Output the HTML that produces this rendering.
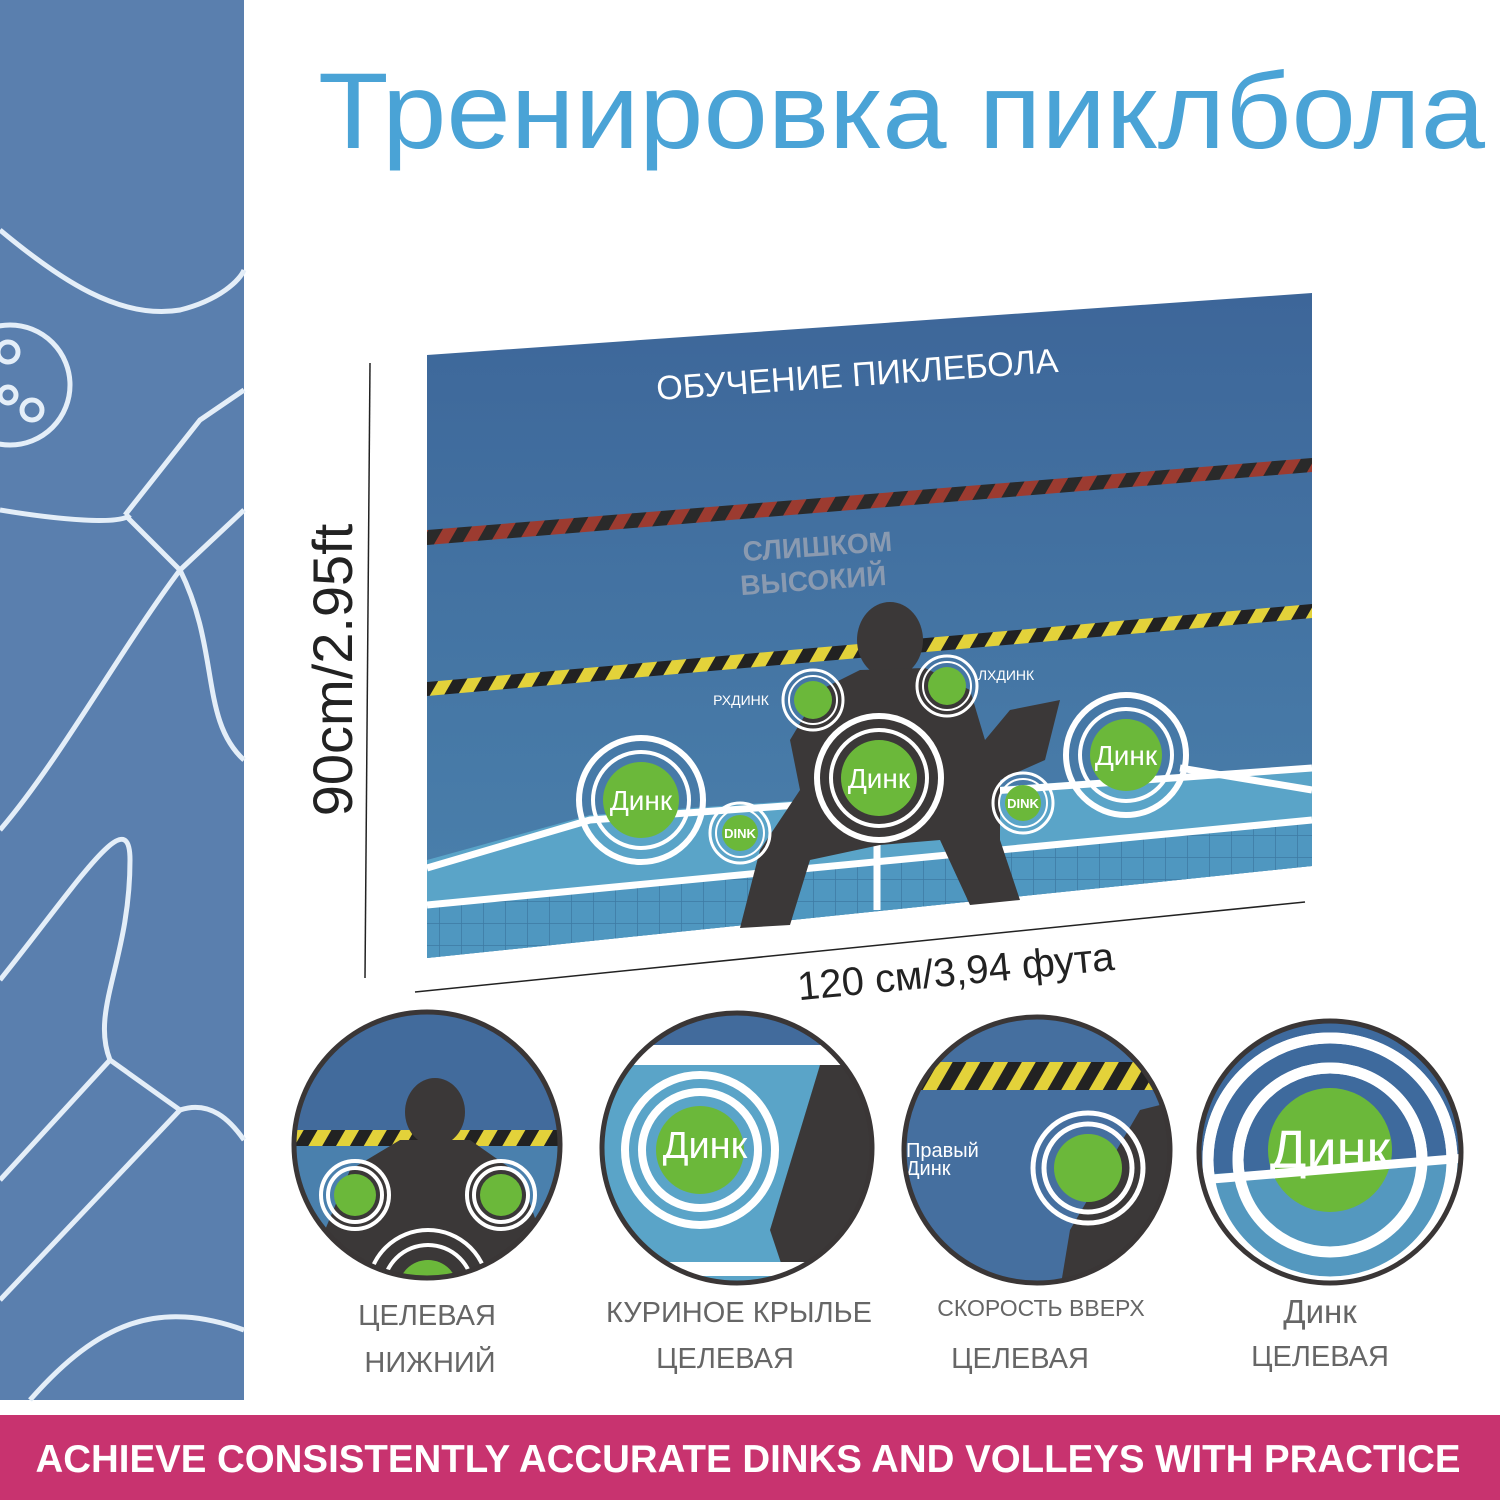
<!DOCTYPE html>
<html><head><meta charset="utf-8"><style>
html,body{margin:0;padding:0;background:#fff}
svg{display:block}
text{font-family:"Liberation Sans","DejaVu Sans",sans-serif}
</style></head><body>
<svg width="1500" height="1500" viewBox="0 0 1500 1500" xmlns="http://www.w3.org/2000/svg">
<defs>
<linearGradient id="mat" x1="0" y1="0" x2="0" y2="1">
<stop offset="0" stop-color="#3d6699"/><stop offset="1" stop-color="#4b82ad"/></linearGradient>
<pattern id="hz" width="24" height="14" patternUnits="userSpaceOnUse" patternTransform="rotate(30)">
<rect width="12" height="14" fill="#e3d23a"/><rect x="12" width="12" height="14" fill="#222"/></pattern>
<pattern id="rz" width="24" height="14" patternUnits="userSpaceOnUse" patternTransform="rotate(30)">
<rect width="12" height="14" fill="#9c3b30"/><rect x="12" width="12" height="14" fill="#2a2a2a"/></pattern>
<pattern id="grid" width="22" height="22" patternUnits="userSpaceOnUse">
<rect width="22" height="22" fill="#4f97c0"/><path d="M22 0V22M0 22H22" stroke="#3d7aa3" stroke-width="1.5"/></pattern>
<clipPath id="c1"><circle cx="427" cy="1145" r="133"/></clipPath>
<clipPath id="c2"><circle cx="737" cy="1148" r="135"/></clipPath>
<clipPath id="c3"><circle cx="1037" cy="1150" r="133"/></clipPath>
<clipPath id="c4"><circle cx="1330" cy="1152" r="131"/></clipPath>
</defs>
<!-- left panel -->
<rect x="0" y="0" width="244" height="1400" fill="#5a7fae"/>
<g fill="none" stroke="#e4eef8" stroke-width="5">
<path d="M0 230 C60 280 120 320 180 310 C220 300 240 280 244 270"/>
<path d="M0 510 C60 520 120 525 130 515"/>
<circle cx="10" cy="385" r="60"/>
<circle cx="8" cy="352" r="10"/><circle cx="32" cy="410" r="10"/><circle cx="8" cy="395" r="8"/>
<path d="M125 515 L200 420 L244 390"/><path d="M180 570 L244 510"/>
<path d="M125 515 L180 570"/>
<path d="M180 570 C120 650 60 760 0 830"/>
<path d="M180 570 C220 650 200 720 244 760"/>
<path d="M0 980 C80 880 130 800 130 860 C130 960 90 1010 110 1060"/>
<path d="M110 1060 L0 1180"/><path d="M180 1110 L0 1300"/><path d="M110 1060 L180 1110"/>
<path d="M180 1110 C210 1100 230 1120 244 1140"/>
<path d="M30 1400 C100 1320 160 1300 244 1330"/>
</g>
<!-- title -->
<text x="318" y="148" font-size="108" fill="#4aa3d6" textLength="1167" lengthAdjust="spacingAndGlyphs">Тренировка пиклбола</text>
<!-- dimension lines -->
<line x1="370" y1="363" x2="365" y2="978" stroke="#222" stroke-width="1.5"/>
<line x1="415" y1="992" x2="1305" y2="902" stroke="#222" stroke-width="1.5"/>
<text transform="translate(352,670) rotate(-90)" font-size="56" fill="#222" text-anchor="middle">90cm/2.95ft</text>
<text transform="translate(957,985) rotate(-5.5)" font-size="40" fill="#222" text-anchor="middle">120 см/3,94 фута</text>
<!-- mat -->
<polygon points="427,355 1312,293 1312,866 427,958" fill="url(#mat)"/>
<polygon points="427,530 1312,458 1312,472 427,545" fill="url(#rz)"/>
<polygon points="427,682 1312,604 1312,618 427,696" fill="url(#hz)"/>
<polygon points="427,860 590,815 1312,765 1312,866 427,958" fill="#5aa4c8"/>
<polygon points="427,905 1312,820 1312,866 427,958" fill="url(#grid)"/>
<g stroke="#fff" stroke-width="7" fill="none">
<path d="M427 868 L590 820 L1312 768"/>
<path d="M427 905 L1312 820"/>
<path d="M1180 768 L1312 790"/>
<path d="M877 840 L877 910"/>
</g>
<text transform="translate(858,386) rotate(-4)" font-size="34" fill="#fff" text-anchor="middle">ОБУЧЕНИЕ ПИКЛЕБОЛА</text>
<text transform="translate(818,556) rotate(-4)" font-size="28" fill="#8a9ab0" text-anchor="middle" font-weight="bold">СЛИШКОМ</text>
<text transform="translate(814,590) rotate(-4)" font-size="28" fill="#8a9ab0" text-anchor="middle" font-weight="bold">ВЫСОКИЙ</text>
<!-- silhouette -->
<g fill="#3b3838">
<ellipse cx="890" cy="640" rx="33" ry="38"/>
<path d="M860 670 L925 668 L970 690 L985 740 L1010 710 L1060 700 L1045 760 L1000 780 L1000 840 L1020 900 L970 905 L940 840 L880 845 L810 860 L790 925 L740 928 L760 850 L800 790 L790 740 L820 690 Z"/>
</g>
<!-- targets -->
<g fill="none" stroke="#fff">
<circle cx="641" cy="800" r="62" stroke-width="6"/><circle cx="641" cy="800" r="48" stroke-width="4"/>
<circle cx="879" cy="778" r="62" stroke-width="6"/><circle cx="879" cy="778" r="48" stroke-width="4"/>
<circle cx="1126" cy="755" r="60" stroke-width="6"/><circle cx="1126" cy="755" r="46" stroke-width="4"/>
<circle cx="813" cy="700" r="30" stroke-width="3"/><circle cx="813" cy="700" r="24" stroke-width="2"/>
<circle cx="947" cy="686" r="30" stroke-width="3"/><circle cx="947" cy="686" r="24" stroke-width="2"/>
<circle cx="740" cy="833" r="30" stroke-width="3"/><circle cx="740" cy="833" r="24" stroke-width="2"/>
<circle cx="1023" cy="803" r="30" stroke-width="3"/><circle cx="1023" cy="803" r="24" stroke-width="2"/>
</g>
<g fill="#6bb83a">
<circle cx="641" cy="800" r="38"/><circle cx="879" cy="778" r="38"/><circle cx="1126" cy="755" r="36"/>
<circle cx="813" cy="700" r="19"/><circle cx="947" cy="686" r="19"/><circle cx="740" cy="833" r="18"/><circle cx="1023" cy="803" r="18"/>
</g>
<g fill="#fff" text-anchor="middle">
<text x="641" y="810" font-size="28">Динк</text><text x="879" y="788" font-size="28">Динк</text><text x="1126" y="765" font-size="28">Динк</text>
<text x="740" y="838" font-size="13" font-weight="bold">DINK</text><text x="1023" y="808" font-size="13" font-weight="bold">DINK</text>
<text x="741" y="705" font-size="14">РХДИНК</text><text x="1006" y="680" font-size="14">ЛХДИНК</text>
</g>
<!-- circles -->
<g clip-path="url(#c1)">
<rect x="290" y="1010" width="280" height="280" fill="#426b9c"/>
<rect x="290" y="1130" width="280" height="16" fill="url(#hz)"/>
<rect x="290" y="1146" width="280" height="150" fill="#4a80ad"/>
<ellipse cx="435" cy="1112" rx="30" ry="34" fill="#3b3838"/>
<path d="M400 1140 L470 1140 L520 1175 L560 1290 L300 1290 L350 1170 Z" fill="#3b3838"/>
<g fill="none" stroke="#fff" stroke-width="4"><circle cx="355" cy="1195" r="34"/><circle cx="355" cy="1195" r="27"/><circle cx="501" cy="1195" r="34"/><circle cx="501" cy="1195" r="27"/><circle cx="428" cy="1290" r="60"/><circle cx="428" cy="1290" r="45"/></g>
<circle cx="355" cy="1195" r="21" fill="#6bb83a"/><circle cx="501" cy="1195" r="21" fill="#6bb83a"/><circle cx="428" cy="1290" r="30" fill="#6bb83a"/>
</g>
<circle cx="427" cy="1145" r="133" fill="none" stroke="#3a3636" stroke-width="5"/>
<g clip-path="url(#c2)">
<rect x="600" y="1010" width="280" height="280" fill="#5aa4c8"/>
<rect x="600" y="1010" width="280" height="35" fill="#426b9c"/>
<rect x="600" y="1045" width="280" height="20" fill="#fff"/>
<path d="M820 1065 L880 1065 L880 1290 L790 1290 L770 1230 Z" fill="#3b3838"/>
<rect x="600" y="1262" width="280" height="14" fill="#fff"/>
<g fill="none" stroke="#fff" stroke-width="8"><circle cx="700" cy="1150" r="75"/><circle cx="700" cy="1150" r="58"/></g>
<circle cx="700" cy="1150" r="44" fill="#6bb83a"/>
<text x="705" y="1158" font-size="38" fill="#fff" text-anchor="middle">Динк</text>
</g>
<circle cx="737" cy="1148" r="135" fill="none" stroke="#3a3636" stroke-width="5"/>
<g clip-path="url(#c3)">
<rect x="900" y="1010" width="280" height="280" fill="#456f9f"/>
<rect x="900" y="1062" width="280" height="28" fill="url(#hz)"/>
<path d="M1140 1110 L1180 1100 L1180 1290 L1060 1290 L1070 1230 Z" fill="#3b3838"/>
<g fill="none" stroke="#fff" stroke-width="5"><circle cx="1088" cy="1168" r="55"/><circle cx="1088" cy="1168" r="44"/></g>
<circle cx="1088" cy="1168" r="34" fill="#6bb83a"/>
<text x="906" y="1157" font-size="20" fill="#fff">Правый</text><text x="906" y="1175" font-size="20" fill="#fff">Динк</text>
</g>
<circle cx="1037" cy="1150" r="133" fill="none" stroke="#3a3636" stroke-width="5"/>
<g clip-path="url(#c4)">
<rect x="1195" y="1020" width="270" height="270" fill="#3e6a9d"/>
<g fill="none" stroke="#fff" stroke-width="11"><circle cx="1330" cy="1160" r="122"/><circle cx="1330" cy="1160" r="92"/></g>
<path d="M1195 1175 L1465 1158 L1465 1290 L1195 1290 Z" fill="#5aa4c8" opacity="0.8"/>
<g fill="none" stroke="#fff" stroke-width="11"><circle cx="1330" cy="1160" r="122"/><circle cx="1330" cy="1160" r="92"/></g>
<ellipse cx="1330" cy="1150" rx="62" ry="62" fill="#6bb83a"/>
<path d="M1200 1180 L1465 1158" stroke="#fff" stroke-width="9"/>
<text x="1330" y="1168" font-size="54" fill="#fff" text-anchor="middle">Динк</text>
</g>
<circle cx="1330" cy="1152" r="131" fill="none" stroke="#3a3636" stroke-width="5"/>
<!-- labels -->
<g fill="#666" text-anchor="middle">
<text x="427" y="1325" font-size="29">ЦЕЛЕВАЯ</text><text x="430" y="1372" font-size="29">НИЖНИЙ</text>
<text x="739" y="1322" font-size="29">КУРИНОЕ КРЫЛЬЕ</text><text x="725" y="1368" font-size="29">ЦЕЛЕВАЯ</text>
<text x="1041" y="1316" font-size="23">СКОРОСТЬ ВВЕРХ</text><text x="1020" y="1368" font-size="29">ЦЕЛЕВАЯ</text>
<text x="1320" y="1323" font-size="33">Динк</text><text x="1320" y="1366" font-size="29">ЦЕЛЕВАЯ</text>
</g>
<!-- banner -->
<rect x="0" y="1415" width="1500" height="85" fill="#c8336f"/>
<text x="748" y="1472" font-size="39" font-weight="bold" fill="#fff" text-anchor="middle" textLength="1425" lengthAdjust="spacingAndGlyphs">ACHIEVE CONSISTENTLY ACCURATE DINKS AND VOLLEYS WITH PRACTICE</text>
</svg>
</body></html>
